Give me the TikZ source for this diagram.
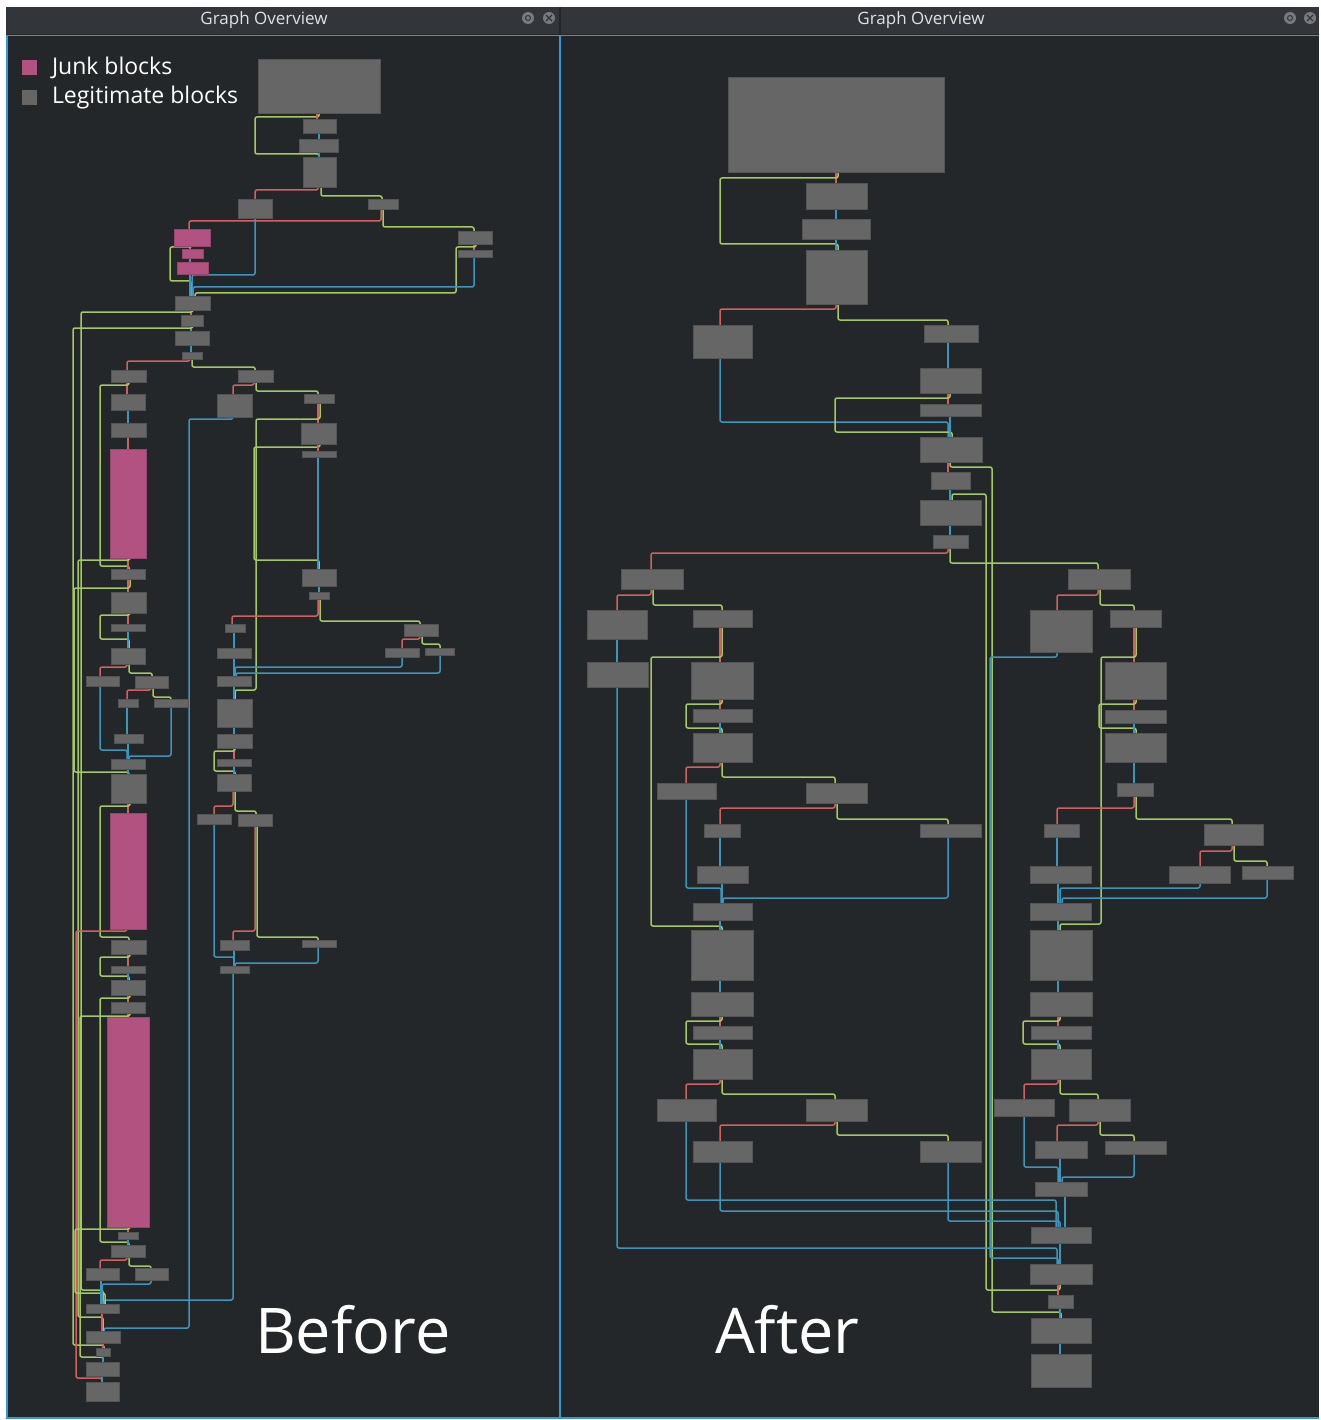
\documentclass[tikz,border=0pt]{standalone}
\usepackage{fontspec}
\setmainfont{Open Sans}
\pgfdeclarelayer{bg}\pgfdeclarelayer{edges}\pgfsetlayers{bg,edges,main}
\definecolor{panelbg}{RGB}{36,39,42}
\definecolor{titlebg}{RGB}{50,54,59}
\definecolor{titletxt}{RGB}{225,225,225}
\definecolor{bordblue}{RGB}{52,152,214}
\definecolor{blkfill}{RGB}{102,102,102}
\definecolor{blkedge}{RGB}{84,84,84}
\definecolor{junkfill}{RGB}{178,82,128}
\definecolor{junkedge}{RGB}{150,70,110}
\definecolor{edgered}{RGB}{210,96,96}
\definecolor{edgegreen}{RGB}{165,200,98}
\definecolor{edgeblue}{RGB}{60,150,188}
\definecolor{icongray}{RGB}{120,122,125}
\tikzset{
  blk/.style={draw=blkedge, fill=blkfill, line width=0.8pt, inner sep=0pt, outer sep=0pt},
  junk/.style={draw=junkedge, fill=junkfill, line width=0.8pt, inner sep=0pt, outer sep=0pt},
  econn/.style={line width=1.5pt, rounded corners=2pt},
  er/.style={econn, draw=edgered},
  eg/.style={econn, draw=edgegreen},
  eb/.style={econn, draw=edgeblue},
  wtext/.style={text=white, inner sep=0pt, outer sep=0pt},
}
% block: name x1 y1 x2 y2
\newcommand\Blk[5]{\node[blk, minimum width={(#4-#2)*1pt}, minimum height={(#5-#3)*1pt}] (#1) at ({(#2+#4)/2},{(#3+#5)/2}) {};}
\newcommand\Jnk[5]{\node[junk, minimum width={(#4-#2)*1pt}, minimum height={(#5-#3)*1pt}] (#1) at ({(#2+#4)/2},{(#3+#5)/2}) {};}
% straight vertical connector: style src x dst
\newcommand\eV[4]{\draw[#1] (#3,0|-#2.south) -- (#3,0|-#4.north);}
% one-level connector: style src xs ymid xd dst
\newcommand\eE[6]{\draw[#1] (#3,0|-#2.south) -- (#3,#4) -- (#5,#4) -- (#5,0|-#6.north);}
% loop connector: style src xs y1 xl y2 xd dst
\newcommand\eL[8]{\draw[#1] (#3,0|-#2.south) -- (#3,#4) -- (#5,#4) -- (#5,#6) -- (#7,#6) -- (#7,0|-#8.north);}

\begin{document}
\begin{tikzpicture}[x=1pt,y=-1pt]
\useasboundingbox (0,0) rectangle (1320,1420);
\begin{pgfonlayer}{bg}
\fill[white] (0,0) rectangle (1320,1420);
\fill[panelbg] (6,7) rectangle (1319,1419);
\fill[titlebg] (6,7) rectangle (559,34);
\fill[titlebg] (561,7) rectangle (1319,34);
\draw[bordblue, line width=1.6pt] (6.8,35.5) -- (6.8,1418.2) -- (1319,1418.2);
\draw[bordblue, line width=1.6pt] (6.8,35.5) -- (1319,35.5);
\draw[bordblue, line width=1.4pt] (560,35.5) -- (560,1418.2);
\end{pgfonlayer}

% title bars
\node[wtext, text=titletxt, font=\fontsize{17}{20}\selectfont] (tl) at (264,20) {Graph Overview};
\node[wtext, text=titletxt, font=\fontsize{17}{20}\selectfont] (tr) at (921,20) {Graph Overview};
\node[circle, fill=icongray, minimum size=12pt, inner sep=0pt] (il1) at (528,18) {};
\node[circle, draw=titlebg, line width=1pt, minimum size=5pt, inner sep=0pt] (il1i) at (528,18) {};
\node[circle, fill=icongray, minimum size=12pt, inner sep=0pt] (il2) at (549,18) {};
\draw[titlebg, line width=1.2pt] (546,15) -- (552,21) (546,21) -- (552,15);
\node[circle, fill=icongray, minimum size=12pt, inner sep=0pt] (ir1) at (1290,18) {};
\node[circle, draw=titlebg, line width=1pt, minimum size=5pt, inner sep=0pt] (ir1i) at (1290,18) {};
\node[circle, fill=icongray, minimum size=12pt, inner sep=0pt] (ir2) at (1310,18) {};
\draw[titlebg, line width=1.2pt] (1307,15) -- (1313,21) (1307,21) -- (1313,15);

% legend
\node[fill=junkfill, minimum size=15pt, inner sep=0pt] (lgj) at (29.5,67.5) {};
\node[fill=blkfill, minimum size=15pt, inner sep=0pt] (lgl) at (29.5,97.5) {};
\node[wtext, anchor=west, font=\fontsize{23}{26}\selectfont] (lgjt) at (52,68) {Junk blocks};
\node[wtext, anchor=west, font=\fontsize{23}{26}\selectfont] (lglt) at (52,98) {Legitimate blocks};

% captions
\node[wtext, anchor=base west, font=\fontsize{63}{74}\selectfont] (before) at (255,1353) {Before};
\node[wtext, anchor=base west, font=\fontsize{63}{74}\selectfont] (after) at (715,1353) {After};

% ===== LEFT PANEL BLOCKS =====
\Blk{a1}{258}{59}{380}{113}
\Blk{a2}{303}{119}{336}{133}
\Blk{a3}{299}{139}{338}{152}
\Blk{a4}{303}{157}{336}{187}
\Blk{a5}{238}{199}{272}{218}
\Blk{a6}{368}{199}{398}{209}
\Jnk{j1}{174}{229}{210}{246}
\Jnk{j2}{182}{249}{203}{258}
\Jnk{j3}{177}{262}{208}{274}
\Blk{a7}{458}{231}{492}{244}
\Blk{a8}{458}{250}{492}{257}
\Blk{a9}{175}{296}{210}{310}
\Blk{a10}{181}{315}{203}{326}
\Blk{a11}{175}{331}{209}{345}
\Blk{a12}{182}{352}{202}{359}
\Blk{a13}{111}{370}{146}{382}
\Blk{a14}{238}{370}{273}{382}
\Blk{a15}{111}{394}{145}{410}
\Blk{a16}{217}{394}{252}{417}
\Blk{a17}{304}{394}{334}{403}
\Blk{a18}{111}{423}{146}{437}
\Blk{a19}{301}{423}{336}{444}
\Jnk{j4}{110}{449}{146}{558}
\Blk{a20}{302}{451}{336}{457}
\Blk{a21}{111}{569}{145}{579}
\Blk{a22}{111}{592}{146}{613}
\Blk{a23}{111}{624}{145}{631}
\Blk{a24}{111}{648}{145}{664}
\Blk{a25}{86}{676}{119}{686}
\Blk{a26}{135}{676}{168}{688}
\Blk{a27}{118}{699}{138}{707}
\Blk{a28}{154}{699}{188}{707}
\Blk{a29}{114}{734}{143}{743}
\Blk{a30}{111}{759}{145}{769}
\Blk{a31}{111}{774}{146}{803}
\Jnk{j5}{110}{813}{146}{929}
\Blk{a32}{111}{940}{146}{954}
\Blk{a33}{111}{966}{145}{973}
\Blk{a34}{111}{980}{145}{995}
\Blk{a35}{111}{1002}{145}{1013}
\Jnk{j6}{107}{1017}{149}{1227}
\Blk{a36}{118}{1232}{138}{1239}
\Blk{a37}{111}{1245}{145}{1257}
\Blk{a38}{86}{1268}{119}{1280}
\Blk{a39}{135}{1268}{168}{1280}
\Blk{a40}{86}{1304}{119}{1313}
\Blk{a41}{86}{1331}{120}{1343}
\Blk{a42}{96}{1348}{110}{1356}
\Blk{a43}{86}{1362}{119}{1376}
\Blk{a44}{86}{1382}{119}{1401}
\Blk{b1}{302}{569}{336}{586}
\Blk{b2}{309}{592}{329}{599}
\Blk{b3}{225}{624}{245}{632}
\Blk{b4}{217}{648}{251}{658}
\Blk{b5}{404}{624}{438}{636}
\Blk{b6}{385}{648}{419}{657}
\Blk{b7}{425}{648}{454}{655}
\Blk{b8}{217}{676}{251}{686}
\Blk{b9}{217}{699}{252}{727}
\Blk{b10}{217}{734}{252}{748}
\Blk{b11}{217}{759}{251}{766}
\Blk{b12}{217}{774}{251}{791}
\Blk{b13}{197}{814}{231}{824}
\Blk{b14}{238}{814}{272}{826}
\Blk{b15}{220}{940}{249}{950}
\Blk{b16}{302}{940}{336}{947}
\Blk{b17}{220}{966}{249}{973}

% ===== RIGHT PANEL BLOCKS =====
\Blk{c1}{728}{77}{944}{172}
\Blk{c2}{806}{183}{867}{209}
\Blk{c3}{802}{219}{870}{239}
\Blk{c4}{806}{250}{867}{304}
\Blk{c5}{693}{325}{752}{358}
\Blk{c6}{924}{325}{978}{342}
\Blk{c7}{920}{368}{981}{393}
\Blk{c8}{920}{404}{981}{416}
\Blk{c9}{920}{437}{982}{462}
\Blk{c10}{931}{472}{970}{489}
\Blk{c11}{920}{500}{981}{525}
\Blk{c12}{933}{535}{968}{548}
\Blk{c13}{621}{569}{683}{589}
\Blk{c14}{1068}{569}{1130}{589}
\Blk{c15}{587}{610}{647}{639}
\Blk{c16}{693}{610}{752}{627}
\Blk{c17}{587}{662}{648}{687}
\Blk{c18}{691}{662}{753}{699}
\Blk{c19}{693}{709}{752}{722}
\Blk{c20}{693}{733}{752}{762}
\Blk{c21}{657}{783}{716}{799}
\Blk{c22}{806}{783}{867}{803}
\Blk{c23}{704}{824}{740}{837}
\Blk{c24}{920}{824}{981}{837}
\Blk{c25}{697}{866}{748}{883}
\Blk{c26}{693}{903}{752}{920}
\Blk{c27}{691}{930}{753}{980}
\Blk{c28}{691}{992}{753}{1016}
\Blk{c29}{693}{1026}{752}{1039}
\Blk{c30}{693}{1049}{752}{1079}
\Blk{c31}{657}{1099}{716}{1121}
\Blk{c32}{806}{1099}{867}{1121}
\Blk{c33}{693}{1141}{752}{1162}
\Blk{c34}{920}{1141}{981}{1162}
\Blk{d1}{1030}{610}{1092}{652}
\Blk{d2}{1110}{610}{1161}{627}
\Blk{d3}{1105}{662}{1166}{699}
\Blk{d4}{1105}{710}{1166}{723}
\Blk{d5}{1105}{733}{1166}{762}
\Blk{d6}{1117}{783}{1153}{796}
\Blk{d7}{1044}{824}{1079}{837}
\Blk{d8}{1204}{824}{1263}{845}
\Blk{d9}{1030}{866}{1091}{883}
\Blk{d10}{1169}{866}{1230}{883}
\Blk{d11}{1242}{866}{1293}{879}
\Blk{d12}{1030}{903}{1091}{920}
\Blk{d13}{1030}{930}{1092}{980}
\Blk{d14}{1030}{992}{1092}{1016}
\Blk{d15}{1031}{1026}{1091}{1039}
\Blk{d16}{1031}{1049}{1091}{1079}
\Blk{d17}{994}{1099}{1054}{1116}
\Blk{d18}{1069}{1099}{1130}{1121}
\Blk{d19}{1035}{1141}{1087}{1158}
\Blk{d20}{1105}{1141}{1166}{1154}
\Blk{d21}{1035}{1182}{1087}{1196}
\Blk{d22}{1031}{1227}{1091}{1243}
\Blk{d23}{1030}{1264}{1092}{1284}
\Blk{d24}{1048}{1295}{1073}{1308}
\Blk{d25}{1031}{1318}{1091}{1343}
\Blk{d26}{1031}{1354}{1091}{1387}

\begin{pgfonlayer}{edges}
% ===== LEFT PANEL EDGES =====
\eL{eg}{a1}{319}{117}{255}{154}{319}{a4}
\eV{er}{a1}{317}{a2}
\eV{eb}{a2}{319}{a3}
\eV{eb}{a3}{319}{a4}
\eE{er}{a4}{318}{190}{255}{a5}
\eE{eg}{a4}{321}{196}{382}{a6}
\eE{er}{a6}{381}{221}{189}{j1}
\eE{eg}{a6}{383}{227}{474}{a7}
\eV{er}{j1}{190}{j2}
\eV{eb}{j2}{190}{j3}
\eL{eg}{j1}{192}{247}{170}{281}{191}{a9}
\eV{eb}{j3}{190}{a9}
\eE{eb}{a5}{255}{275}{192}{a9}
\eV{er}{a7}{474}{a8}
\eL{eg}{a7}{476}{247}{456}{293}{195}{a9}
\eE{eb}{a8}{474}{287}{193}{a9}
\eV{er}{a9}{191}{a10}
\eL{eg}{a9}{193}{312}{81}{1290}{103}{a40}
\eV{eb}{a10}{191}{a11}
\eL{eg}{a10}{193}{328}{73}{1345}{104}{a42}
\eV{eb}{a11}{191}{a12}
\eE{er}{a12}{190}{361}{127}{a13}
\eE{eg}{a12}{192}{367}{255}{a14}
\eV{er}{a13}{127}{a15}
\eL{eg}{a13}{129}{385}{100}{566}{129}{a21}
\eE{er}{a14}{254}{385}{233}{a16}
\eE{eg}{a14}{256}{391}{318}{a17}
\eV{eb}{a15}{128}{a18}
\eL{eb}{a16}{233}{419}{189}{1328}{104}{a41}
\eV{er}{a17}{318}{a19}
\eL{eg}{a17}{320}{419}{256}{690}{235}{b9}
\eV{er}{a18}{128}{j4}
\eL{eg}{a19}{320}{447}{254}{560}{319}{b1}
\eV{er}{a19}{318}{a20}
\eV{eb}{a20}{318}{b1}
\eV{eb}{b1}{319}{b2}
\eE{er}{b2}{318}{616}{232}{b3}
\eE{eg}{b2}{320}{621}{420}{b5}
\eV{eb}{b3}{234}{b4}
\eV{eb}{b4}{234}{b8}
\eE{er}{b5}{420}{639}{402}{b6}
\eE{eg}{b5}{422}{644}{440}{b7}
\eE{eb}{b6}{402}{667}{235}{b8}
\eE{eb}{b7}{440}{673}{236}{b8}
\eV{eb}{b8}{234}{b9}
\eV{eb}{b9}{234}{b10}
\eV{er}{b10}{234}{b11}
\eL{eg}{b10}{235}{751}{214}{771}{235}{b12}
\eV{eb}{b11}{234}{b12}
\eE{er}{b12}{233}{806}{214}{b13}
\eE{eg}{b12}{235}{811}{256}{b14}
\eE{eb}{b13}{214}{957}{234}{b17}
\eE{er}{b14}{255}{931}{233}{b15}
\eE{eg}{b14}{257}{937}{318}{b16}
\eV{eb}{b15}{234}{b17}
\eE{eb}{b16}{318}{963}{235}{b17}
\eE{eb}{b17}{233}{1300}{104}{a40}
\eV{er}{j4}{128}{a21}
\eL{eg}{j4}{130}{560}{78}{1317}{103}{a41}
\eV{er}{a21}{128}{a22}
\eL{eg}{a21}{130}{588}{74}{772}{129}{a31}
\eV{er}{a22}{128}{a23}
\eL{eg}{a22}{130}{615}{100}{639}{129}{a24}
\eV{eb}{a23}{128}{a24}
\eE{er}{a24}{127}{667}{100}{a25}
\eE{eg}{a24}{129}{673}{152}{a26}
\eE{er}{a26}{151}{690}{127}{a27}
\eE{eg}{a26}{153}{697}{171}{a28}
\eV{eb}{a27}{127}{a29}
\eV{eb}{a29}{128}{a30}
\eE{eb}{a25}{100}{750}{127}{a30}
\eE{eb}{a28}{171}{756}{129}{a30}
\eV{eb}{a30}{128}{a31}
\eV{er}{a31}{128}{j5}
\eL{eg}{a31}{130}{806}{100}{937}{129}{a32}
\eL{er}{j5}{127}{931}{76}{1378}{102}{a44}
\eV{er}{a32}{128}{a33}
\eL{eg}{a32}{130}{957}{100}{976}{129}{a34}
\eV{eb}{a33}{128}{a34}
\eV{er}{a34}{128}{a35}
\eL{eg}{a34}{130}{998}{100}{1242}{129}{a37}
\eV{er}{a35}{128}{j6}
\eL{eg}{a35}{130}{1016}{80}{1357}{103}{a43}
\eV{er}{j6}{128}{a36}
\eL{eg}{j6}{130}{1229}{75}{1293}{105}{a40}
\eV{eb}{a36}{128}{a37}
\eE{er}{a37}{127}{1260}{100}{a38}
\eE{eg}{a37}{129}{1266}{151}{a39}
\eE{eb}{a39}{151}{1284}{102}{a40}
\eV{eb}{a38}{101}{a40}
\eV{er}{a40}{102}{a41}
\eV{er}{a41}{103}{a42}
\eV{eb}{a42}{103}{a43}
\eV{eb}{a43}{102}{a44}

% ===== RIGHT PANEL EDGES =====
\eV{er}{c1}{836}{c2}
\eL{eg}{c1}{838}{178}{720}{244}{838}{c4}
\eV{eb}{c2}{836}{c3}
\eV{eb}{c3}{836}{c4}
\eE{er}{c4}{836}{309}{720}{c5}
\eE{eg}{c4}{838}{320}{948}{c6}
\eE{eb}{c5}{720}{422}{948}{c9}
\eV{eb}{c6}{948}{c7}
\eV{er}{c7}{948}{c8}
\eL{eg}{c7}{950}{398}{835}{432}{952}{c9}
\eV{eb}{c8}{950}{c9}
\eV{er}{c9}{948}{c10}
\eL{eg}{c9}{950}{467}{992}{1312}{1061}{d25}
\eV{eb}{c10}{950}{c11}
\eL{eg}{d23}{1060}{1290}{986}{494}{952}{c11}
\eV{eb}{c11}{950}{c12}
\eE{er}{c12}{948}{553}{651}{c13}
\eE{eg}{c12}{950}{563}{1098}{c14}
\eE{er}{c13}{651}{595}{617}{c15}
\eE{eg}{c13}{653}{605}{722}{c16}
\eV{eb}{c15}{617}{c17}
\eE{eb}{c17}{617}{1248}{1057}{d23}
\eV{er}{c16}{720}{c18}
\eL{eg}{c16}{722}{657}{651}{926}{722}{c27}
\eV{er}{c18}{720}{c19}
\eL{eg}{c18}{722}{704}{686}{728}{722}{c20}
\eV{eb}{c19}{720}{c20}
\eE{er}{c20}{720}{767}{686}{c21}
\eE{eg}{c20}{722}{777}{835}{c22}
\eE{er}{c22}{835}{808}{720}{c23}
\eE{eg}{c22}{837}{819}{948}{c24}
\eV{eb}{c23}{720}{c25}
\eE{eb}{c21}{686}{888}{721}{c26}
\eV{eb}{c25}{722}{c26}
\eE{eb}{c24}{948}{898}{723}{c26}
\eV{eb}{c26}{720}{c27}
\eV{eb}{c27}{720}{c28}
\eV{er}{c28}{720}{c29}
\eL{eg}{c28}{722}{1021}{686}{1044}{722}{c30}
\eV{eb}{c29}{720}{c30}
\eE{er}{c30}{720}{1084}{686}{c31}
\eE{eg}{c30}{722}{1094}{835}{c32}
\eE{er}{c32}{835}{1125}{720}{c33}
\eE{eg}{c32}{837}{1135}{948}{c34}
\eE{eb}{c31}{686}{1200}{1056}{d22}
\eE{eb}{c33}{720}{1211}{1058}{d22}
\eE{eb}{c34}{948}{1221}{1060}{d22}
\eE{er}{c14}{1098}{595}{1057}{d1}
\eE{eg}{c14}{1100}{605}{1134}{d2}
\eL{eb}{d1}{1057}{657}{990}{1258}{1058}{d23}
\eV{er}{d2}{1134}{d3}
\eL{eg}{d2}{1136}{657}{1101}{924}{1060}{d13}
\eV{er}{d3}{1134}{d4}
\eL{eg}{d3}{1136}{704}{1099}{728}{1136}{d5}
\eV{eb}{d4}{1134}{d5}
\eV{eb}{d5}{1134}{d6}
\eE{er}{d6}{1134}{808}{1057}{d7}
\eE{eg}{d6}{1136}{819}{1232}{d8}
\eE{er}{d8}{1232}{851}{1200}{d10}
\eE{eg}{d8}{1234}{861}{1267}{d11}
\eV{eb}{d7}{1057}{d9}
\eE{eb}{d10}{1200}{888}{1060}{d12}
\eE{eb}{d11}{1267}{898}{1062}{d12}
\eV{eb}{d9}{1058}{d12}
\eV{eb}{d12}{1058}{d13}
\eV{eb}{d13}{1058}{d14}
\eV{er}{d14}{1058}{d15}
\eL{eg}{d14}{1060}{1021}{1023}{1044}{1060}{d16}
\eV{eb}{d15}{1058}{d16}
\eE{er}{d16}{1058}{1084}{1024}{d17}
\eE{eg}{d16}{1060}{1094}{1098}{d18}
\eE{er}{d18}{1098}{1125}{1057}{d19}
\eE{eg}{d18}{1100}{1135}{1134}{d20}
\eE{eb}{d17}{1024}{1167}{1058}{d21}
\eV{eb}{d19}{1060}{d21}
\eE{eb}{d20}{1134}{1177}{1062}{d21}
\eV{eb}{d21}{1065}{d22}
\eV{eb}{d22}{1060}{d23}
\eV{er}{d23}{1058}{d24}
\eV{eb}{d24}{1060}{d25}
\eV{eb}{d25}{1060}{d26}
\end{pgfonlayer}
\end{tikzpicture}
\end{document}
